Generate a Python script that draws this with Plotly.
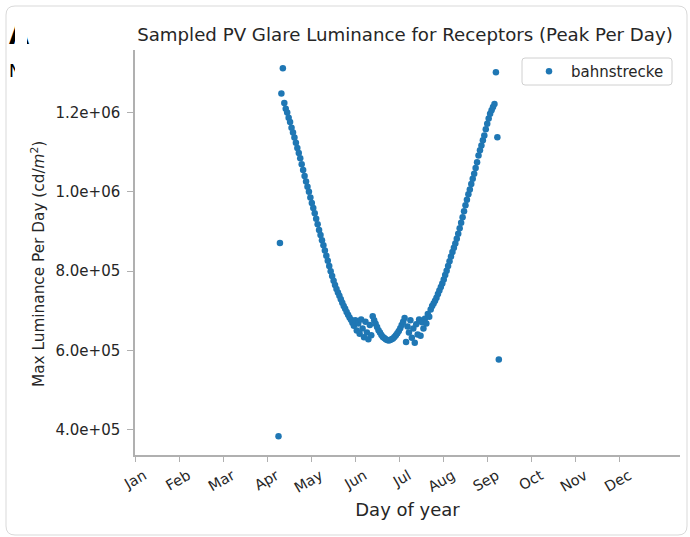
import plotly.graph_objects as go

# day of year and sampled peak luminance (cd/m2)
dias = list(range(99, 252))
luminancia = [
    383000, 871000, 1248000, 1312000,
    1224000, 1210000, 1200000, 1187000, 1176000, 1162000, 1150000, 1137000, 1124000, 1111000,
    1098000, 1085000, 1070000, 1055000, 1040000, 1026000, 1013000, 1000000, 986000, 972000,
    959000, 946000, 932000, 918000, 904000, 891000, 878000, 865000, 852000, 839000,
    826000, 813000, 800000, 788000, 776000, 765000, 755000, 746000, 738000, 729000,
    720000, 712000, 705000, 697000, 690000, 683000, 677000, 670000,
    662000, 676000, 650000, 668000, 642000, 678000, 655000, 633000, 672000, 645000,
    628000, 664000, 638000, 686000,
    676000, 667000, 659000, 651000, 645000, 639000, 634000, 631000, 628000, 626000,
    625000, 626000, 628000, 630000, 634000, 638000, 643000, 649000, 656000, 664000,
    672000, 682000,
    621000, 660000, 645000, 676000, 632000, 655000, 619000, 666000, 640000, 678000,
    637000, 671000, 655000, 680000, 668000, 692000, 685000, 703000,
    712000, 718000, 725000, 733000, 742000, 751000, 760000, 769000, 779000, 790000,
    801000, 813000, 825000, 837000, 848000, 859000, 870000, 882000, 894000, 908000,
    922000, 936000, 951000, 966000, 980000, 994000, 1006000, 1020000, 1033000, 1046000,
    1060000, 1075000, 1092000, 1105000, 1117000, 1130000, 1142000, 1158000, 1172000, 1185000,
    1197000, 1206000, 1214000, 1222000,
    1302000, 1138000, 577000,
]

meses = ['Jan', 'Feb', 'Mar', 'Apr', 'May', 'Jun', 'Jul', 'Aug', 'Sep', 'Oct', 'Nov', 'Dec']
y_ticks = [400000, 600000, 800000, 1000000, 1200000]
y_labels = ['4.0e+05', '6.0e+05', '8.0e+05', '1.0e+06', '1.2e+06']

W, H = 690, 537
L, R, T, B = 135, 10, 50, 82


def px(x):
    return (x - L) / (W - L - R)


def py(y):
    return (H - B - y) / (H - T - B)


def caja(x0, x1, y0, y1, r):
    # rectangulo redondeado en coordenadas de papel, a partir de pixeles
    rx, ry = r / (W - L - R), r / (H - T - B)
    a, b, c, d = px(x0), px(x1), py(y0), py(y1)
    return (f'M {a + rx},{c} L {b - rx},{c} Q {b},{c} {b},{c - ry} '
            f'L {b},{d + ry} Q {b},{d} {b - rx},{d} L {a + rx},{d} Q {a},{d} {a},{d + ry} '
            f'L {a},{c - ry} Q {a},{c} {a + rx},{c} Z')


fig = go.Figure()
fig.add_trace(go.Scatter(
    x=dias, y=luminancia, mode='markers', name='bahnstrecke',
    marker=dict(color='#1f77b4', size=6.5, line=dict(width=0)),
))

gris = '#b0b0b0'
texto = '#262626'
fuente = 'DejaVu Sans'

fig.update_xaxes(
    range=[0, 376], tickmode='array', automargin=False,
    tickvals=[365 / 12 * i for i in range(12)], ticktext=meses,
    tickangle=-30, ticklabelshift=9, ticks='outside', ticklen=5, tickcolor=gris, tickwidth=1.3,
    showline=True, linecolor=gris, linewidth=1.5, showgrid=False, zeroline=False,
    tickfont=dict(size=14.5, color=texto, family=fuente),
    title=dict(text='Day of year', font=dict(size=18, color=texto, family=fuente), standoff=9),
)
fig.update_yaxes(
    range=[336000, 1358000], tickmode='array', tickvals=y_ticks, ticktext=y_labels,
    automargin=False,
    ticks='outside', ticklen=6, tickcolor=gris, tickwidth=1.3, ticklabelstandoff=4,
    showline=True, linecolor=gris, linewidth=1.5, showgrid=False, zeroline=False,
    tickfont=dict(size=15, color=texto, family=fuente),
)

# titulo del eje y como anotacion, para poder centrarlo como en la referencia
fig.add_annotation(text='Max Luminance Per Day (cd/<i>m</i><sup>2</sup>)',
                   x=px(38), y=py(264), xref='paper', yref='paper', textangle=-90,
                   xanchor='center', yanchor='middle', showarrow=False,
                   font=dict(size=15.3, color=texto, family=fuente))

# marco redondeado alrededor de la imagen
fig.add_shape(type='path', path=caja(6, 687, 6, 535, 9), xref='paper', yref='paper',
              line=dict(color='#d9d9d9', width=1), layer='below')
# caja de la leyenda
fig.add_shape(type='path', path=caja(522, 672, 58, 85, 3), xref='paper', yref='paper',
              line=dict(color='#d0d0d0', width=1), fillcolor='white', layer='above')

# restos de texto de la pagina, tapados en parte por la figura
fig.add_annotation(text='<b>A</b>', x=px(7), y=py(35), xref='paper', yref='paper',
                   xanchor='left', yanchor='middle', showarrow=False,
                   font=dict(size=26, color='black', family=fuente))
fig.add_annotation(text='N', x=px(7), y=py(71), xref='paper', yref='paper',
                   xanchor='left', yanchor='middle', showarrow=False,
                   font=dict(size=17, color='black', family=fuente))
for yc, alto in [(35, 34), (71, 26)]:
    fig.add_annotation(text=' ', x=px(15), y=py(yc), xref='paper', yref='paper',
                       xanchor='left', yanchor='middle', showarrow=False,
                       width=12, height=alto, bgcolor='white', borderpad=0, borderwidth=0)

fig.update_layout(
    width=W, height=H,
    margin=dict(l=L, r=R, t=T, b=B),
    paper_bgcolor='white', plot_bgcolor='white',
    title=dict(text='Sampled PV Glare Luminance for Receptors (Peak Per Day)',
               x=405 / W, xanchor='center', y=1 - 35 / H, yanchor='middle',
               font=dict(size=18.2, color=texto, family=fuente)),
    legend=dict(x=px(527), y=py(71.5), xanchor='left', yanchor='middle',
                borderwidth=0, bgcolor='rgba(0,0,0,0)', itemwidth=34,
                font=dict(size=15, color=texto, family=fuente)),
    showlegend=True,
)

# sin margen del body, la figura empieza en la esquina de la ventana
fig.write_html('out.html', config={'displayModeBar': False},
               post_script="document.body.style.margin='0';")
